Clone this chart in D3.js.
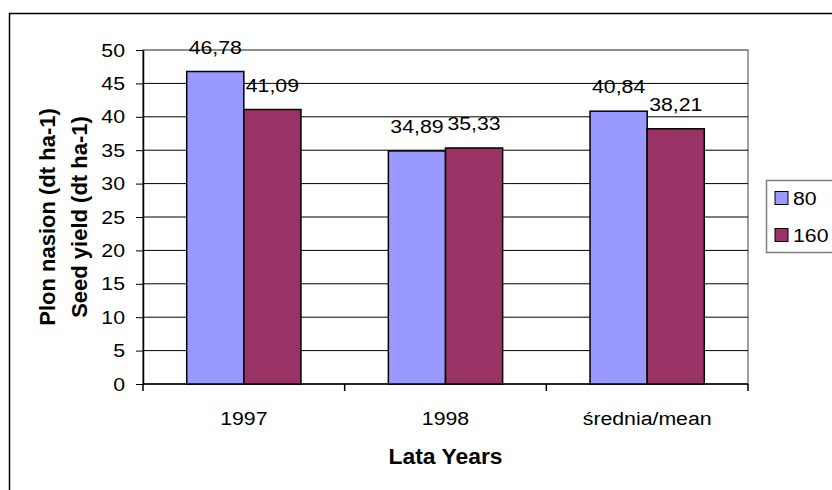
<!DOCTYPE html>
<html>
<head>
<meta charset="utf-8">
<script src="https://cdn.jsdelivr.net/npm/d3@7"></script>
<style>
  html, body { margin: 0; padding: 0; background: #fff; }
  svg { display: block; font-family: "Liberation Sans", Arial, sans-serif; }
</style>
</head>
<body>
<svg id="chart" width="832" height="490"></svg>
<script>
// Seed yield by year and nitrogen dose
const categories = ["1997", "1998", "średnia/mean"];
const seriesNames = ["80", "160"];
const values80 = [46.78, 34.89, 40.84];
const values160 = [41.09, 35.33, 38.21];
const yTicks = [0, 5, 10, 15, 20, 25, 30, 35, 40, 45, 50];
const colors = ["#9999FF", "#993366"];

const series = [values80, values160];
const fmt = v => v.toFixed(2).replace(".", ",");

const svg = d3.select("#chart");
const W = 832, H = 490;
const plot = { left: 143, right: 748, top: 50, bottom: 384 };
const FS = 19;      // label font size
const SX = 1.12;    // horizontal widening of the label glyphs

// outer chart frame
svg.append("rect")
  .attr("x", 9.5).attr("y", 13.5)
  .attr("width", W).attr("height", H)
  .attr("fill", "#fff").attr("stroke", "#000").attr("stroke-width", 1.5);

const x = d3.scaleBand().domain(categories).range([plot.left, plot.right]).paddingInner(0).paddingOuter(0);
const y = d3.scaleLinear().domain([0, 50]).range([plot.bottom, plot.top]);
const inner = d3.scaleBand().domain(seriesNames).range([0, x.bandwidth()]).paddingInner(0).paddingOuter(0.765);

// text helper: label placed at (px, py), widened horizontally
function label(sel, px, py, txt, anchor) {
  return sel.append("text")
    .attr("transform", `translate(${px},${py}) scale(${SX},1)`)
    .attr("text-anchor", anchor || "middle")
    .attr("font-size", FS)
    .attr("fill", "#000")
    .text(txt);
}

// plot area frame (grey)
svg.append("rect")
  .attr("x", plot.left).attr("y", plot.top)
  .attr("width", plot.right - plot.left).attr("height", plot.bottom - plot.top)
  .attr("fill", "#fff").attr("stroke", "#808080").attr("stroke-width", 1.5);

// gridlines
svg.append("g").selectAll("line")
  .data(yTicks.filter(t => t > 0))
  .join("line")
  .attr("x1", plot.left).attr("x2", plot.right)
  .attr("y1", d => y(d)).attr("y2", d => y(d))
  .attr("stroke", d => d === 50 ? "#808080" : "#000")
  .attr("stroke-width", 1);

// y axis
const yAxis = svg.append("g")
  .attr("transform", `translate(${plot.left},0)`)
  .call(d3.axisLeft(y).tickValues(yTicks).tickSize(7).tickPadding(11).tickSizeOuter(0));
yAxis.select(".domain").attr("stroke", "#000").attr("stroke-width", 1.5);
yAxis.selectAll(".tick line").attr("stroke", "#000");
yAxis.selectAll(".tick text")
  .attr("font-size", FS).attr("fill", "#000")
  .attr("font-family", "'Liberation Sans', Arial, sans-serif")
  .attr("x", -18 / SX)
  .attr("transform", `scale(${SX},1)`);

// x axis with ticks at category boundaries
const xAxis = svg.append("g").attr("transform", `translate(0,${plot.bottom})`);
xAxis.append("line")
  .attr("x1", plot.left).attr("x2", plot.right)
  .attr("y1", 0).attr("y2", 0)
  .attr("stroke", "#000").attr("stroke-width", 1.5);
const bounds = categories.map(c => x(c)).concat([x(categories[categories.length - 1]) + x.bandwidth()]);
xAxis.selectAll("line.tk").data(bounds).join("line").attr("class", "tk")
  .attr("x1", d => d).attr("x2", d => d)
  .attr("y1", 0).attr("y2", 7)
  .attr("stroke", d => d === plot.right ? "#808080" : "#000").attr("stroke-width", 1.5);
categories.forEach(c => label(xAxis, x(c) + x.bandwidth() / 2, 41, c));

// bars
const groups = svg.append("g").selectAll("g")
  .data(categories)
  .join("g")
  .attr("transform", d => `translate(${x(d)},0)`);

groups.selectAll("rect")
  .data((c, i) => seriesNames.map((s, j) => ({ s, j, v: series[j][i] })))
  .join("rect")
  .attr("x", d => inner(d.s))
  .attr("y", d => y(d.v))
  .attr("width", inner.bandwidth())
  .attr("height", d => y(0) - y(d.v))
  .attr("fill", d => colors[d.j])
  .attr("stroke", "#000")
  .attr("stroke-width", 1.5);

// value labels above bars
groups.each(function (c, i) {
  const g = d3.select(this);
  seriesNames.forEach((s, j) => {
    const v = series[j][i];
    label(g, inner(s) + inner.bandwidth() / 2, y(v) - 18, fmt(v));
  });
});

// axis titles
svg.append("text")
  .attr("transform", `translate(${(plot.left + plot.right) / 2},464) scale(1.04,1)`)
  .attr("text-anchor", "middle")
  .attr("font-size", 22)
  .attr("font-weight", "bold")
  .text("Lata Years");

const yTitle = svg.append("text")
  .attr("transform", `translate(0,${(plot.top + plot.bottom) / 2}) rotate(-90)`)
  .attr("text-anchor", "middle")
  .attr("font-size", 22)
  .attr("font-weight", "bold");
yTitle.append("tspan").attr("x", 0).attr("y", 55).text("Plon nasion (dt ha-1)");
yTitle.append("tspan").attr("x", 0).attr("y", 87).text("Seed yield (dt ha-1)");

// legend
const legend = svg.append("g");
legend.append("rect")
  .attr("x", 766.5).attr("y", 180.5)
  .attr("width", 80).attr("height", 72)
  .attr("fill", "#fff").attr("stroke", "#808080").attr("stroke-width", 1.5);
seriesNames.forEach((s, i) => {
  const cy = 198 + i * 37;
  legend.append("rect")
    .attr("x", 775).attr("y", cy - 6.5)
    .attr("width", 13).attr("height", 13)
    .attr("fill", colors[i])
    .attr("stroke", "#000").attr("stroke-width", 1);
  label(legend, 793, cy + 7, s, "start");
});
</script>
</body>
</html>
